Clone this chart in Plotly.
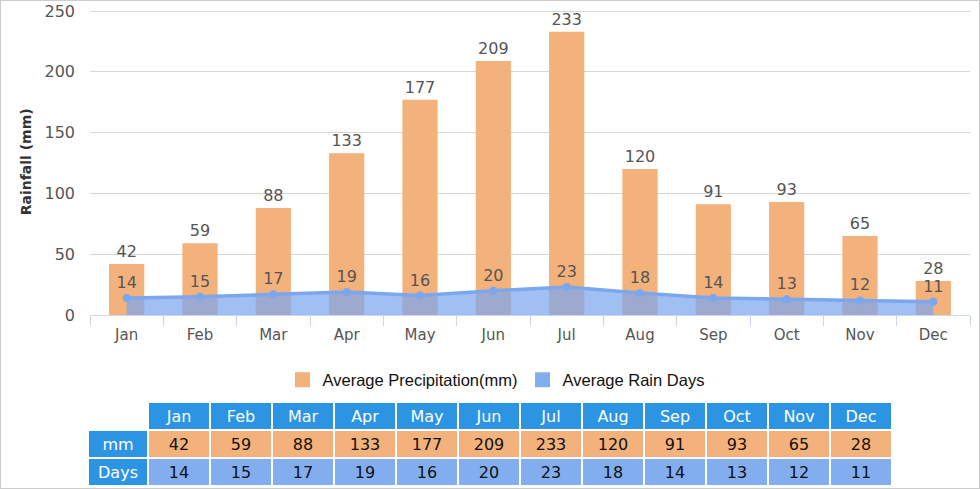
import plotly.graph_objects as go

W, H = 980, 489

months = ["Jan", "Feb", "Mar", "Apr", "May", "Jun", "Jul", "Aug", "Sep", "Oct", "Nov", "Dec"]
precip_mm = [42, 59, 88, 133, 177, 209, 233, 120, 91, 93, 65, 28]
rain_days = [14, 15, 17, 19, 16, 20, 23, 18, 14, 13, 12, 11]
y_ticks = [0, 50, 100, 150, 200, 250]

ORANGE = "#f3b17b"
BLUE_LINE = "#7ba7ee"
BLUE_FILL = "rgba(124,166,238,0.72)"
BLUE_ROW = "#82aef0"
HEADER = "#2b95e3"
TEXT = "#555555"


def px_x(p):
    return p / W


def px_y(p):
    return 1 - p / H


fig = go.Figure()

fig.add_trace(
    go.Bar(
        x=months,
        y=precip_mm,
        width=0.48,
        marker={"color": ORANGE, "line": {"width": 0}},
        text=precip_mm,
        textposition="outside",
        textfont={"color": TEXT, "size": 16, "family": "DejaVu Sans"},
        cliponaxis=False,
        showlegend=False,
        hoverinfo="skip",
    )
)
fig.add_trace(
    go.Scatter(
        x=months,
        y=rain_days,
        mode="lines+markers+text",
        fill="tozeroy",
        fillcolor=BLUE_FILL,
        line={"color": BLUE_LINE, "width": 3.5},
        marker={"color": BLUE_LINE, "size": 8},
        text=rain_days,
        textposition="top center",
        textfont={"color": TEXT, "size": 16, "family": "DejaVu Sans"},
        cliponaxis=False,
        showlegend=False,
        hoverinfo="skip",
    )
)

# legend swatches
for name, color in (("Average Precipitation(mm)", ORANGE), ("Average Rain Days", BLUE_ROW)):
    fig.add_trace(
        go.Scatter(
            x=[None],
            y=[None],
            mode="markers",
            name=name,
            marker={"symbol": "square", "size": 15, "color": color},
        )
    )

# data table under the chart
header_vals = [""] + months
cell_cols = [["mm", "Days"]] + [[p, d] for p, d in zip(precip_mm, rain_days)]
fig.add_trace(
    go.Table(
        domain={"x": [px_x(88), px_x(892)], "y": [0, px_y(402)]},
        columnwidth=[60] + [62] * 12,
        header={
            "values": header_vals,
            "fill": {"color": ["white"] + [HEADER] * 12},
            "line": {"color": "white", "width": 2},
            "font": {"color": "white", "size": 16, "family": "DejaVu Sans"},
            "align": "center",
            "height": 28,
        },
        cells={
            "values": cell_cols,
            "fill": {"color": [[HEADER, HEADER]] + [[ORANGE, BLUE_ROW]] * 12},
            "line": {"color": "white", "width": 2},
            "font": {
                "color": [["white", "white"]] + [["#111111", "#111111"]] * 12,
                "size": 16,
                "family": "DejaVu Sans",
            },
            "align": "center",
            "height": 28,
        },
    )
)

fig.update_layout(
    width=W,
    height=H,
    paper_bgcolor="white",
    plot_bgcolor="white",
    margin={"l": 0, "r": 0, "t": 0, "b": 0, "autoexpand": False},
    font={"family": "DejaVu Sans", "color": TEXT},
    showlegend=True,
    legend={
        "orientation": "h",
        "x": px_x(496),
        "xanchor": "center",
        "y": px_y(380),
        "yanchor": "middle",
        "font": {"family": "Liberation Sans", "size": 16.5, "color": "#111111"},
        "itemwidth": 30,
    },
    shapes=[
        {"type": "rect", "xref": "paper", "yref": "paper", "x0": 0, "x1": 1,
         "y0": 0, "y1": 1, "line": {"color": "#cccccc", "width": 2}},
    ],
)
fig.update_xaxes(
    domain=[px_x(90), px_x(970)],
    anchor="y",
    automargin=False,
    range=[-0.5, 11.5],
    showgrid=False,
    showline=True,
    linecolor="#ccd6eb",
    ticks="outside",
    tickson="boundaries",
    ticklen=10,
    tickcolor="#ccd6eb",
    ticklabelstandoff=6,
    tickfont={"size": 15, "color": TEXT},
    fixedrange=True,
)
# range runs a little past 250 so the top gridline is not clipped away
fig.update_yaxes(
    domain=[px_y(315), px_y(8.6)],
    automargin=False,
    range=[0, 252],
    tickvals=y_ticks,
    ticklabeloverflow="allow",
    gridcolor="#d6d6d6",
    zeroline=False,
    showline=False,
    tickfont={"size": 16, "color": TEXT},
    ticklabelstandoff=14,
    title={"text": "<b>Rainfall (mm)</b>", "font": {"size": 14, "color": "#333333"}, "standoff": 9},
    fixedrange=True,
)

# drop the browser's default body margin so the figure sits at the page corner
fig.write_html(
    "out.html",
    config={"displayModeBar": False},
    post_script="document.body.style.margin = '0';",
)
